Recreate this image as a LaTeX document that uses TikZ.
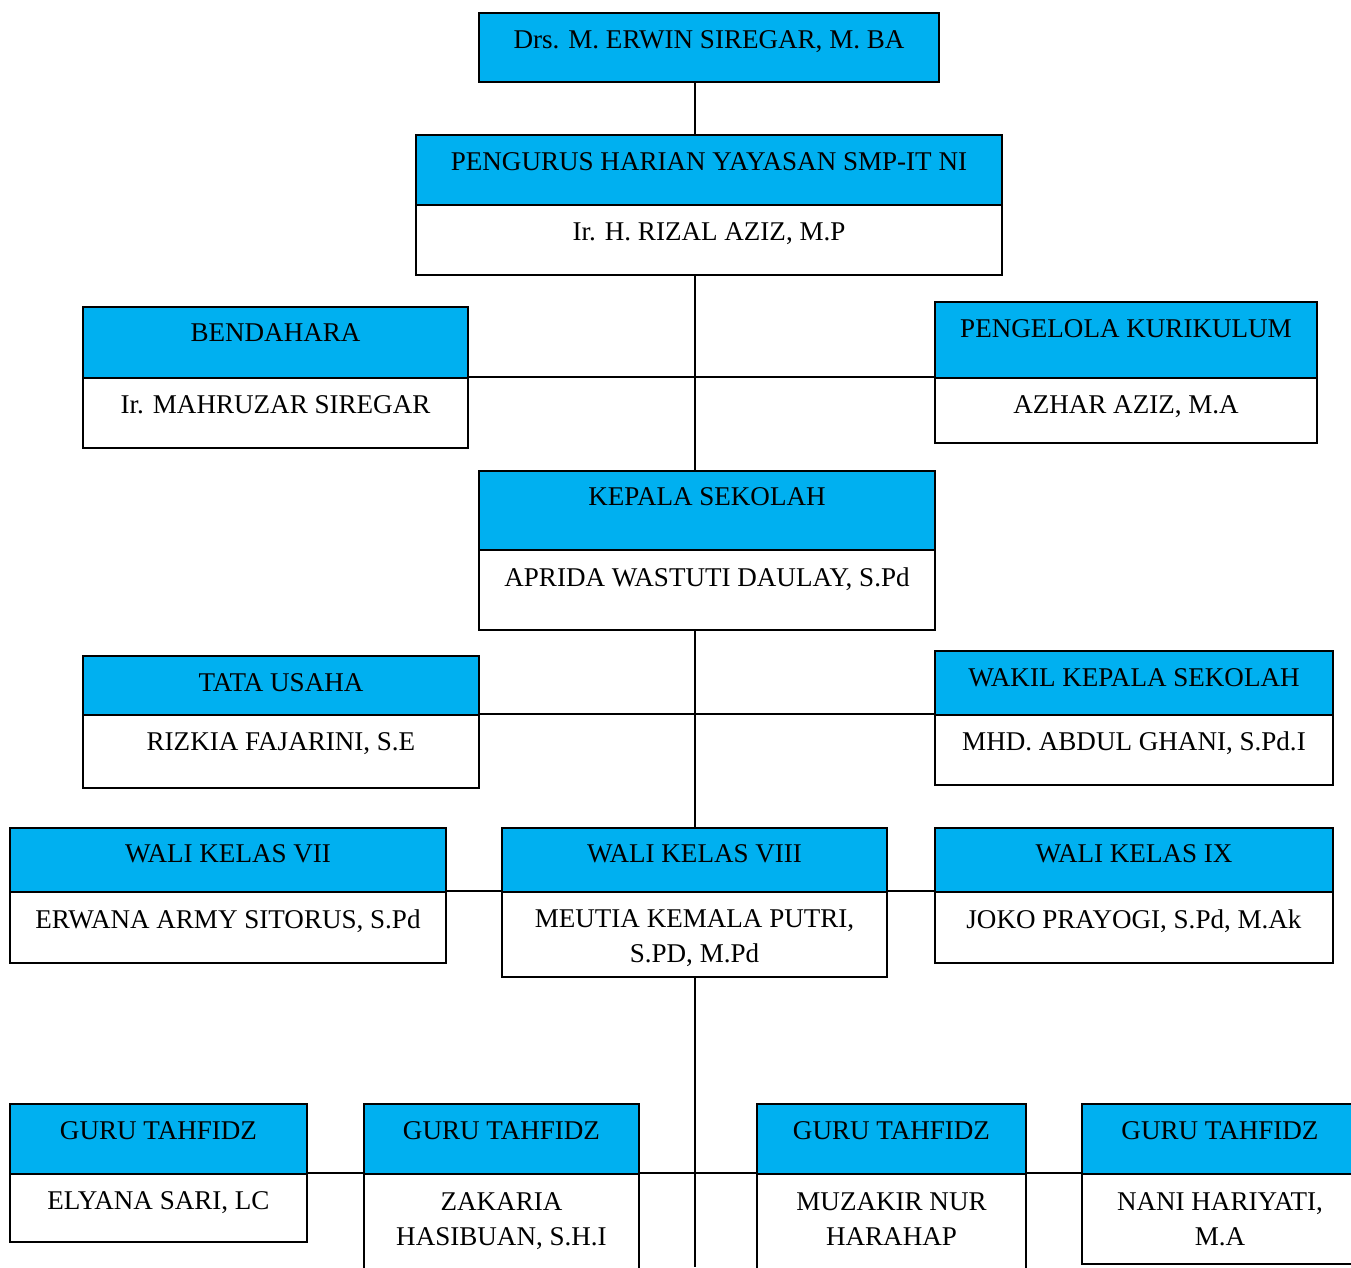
\documentclass[tikz,border=0pt]{standalone}
\usepackage{fontspec}
\setmainfont{Liberation Serif}
\usetikzlibrary{fit}
\definecolor{hdrblue}{HTML}{00B0F0}
\begin{document}
\begin{tikzpicture}[x=0.75pt,y=-0.75pt,
  hdr/.style={draw=black, fill=hdrblue, line width=1.3pt, inner sep=0pt},
  body/.style={draw=black, fill=white, line width=1.3pt, inner sep=0pt},
  lbl/.style={anchor=base, font=\fontsize{20.3}{26}\selectfont, align=center, inner sep=0pt},
  link/.style={draw=black, line width=1.3pt}]
\useasboundingbox (0,0) rectangle (1351,1267);
\clip (0,0) rectangle (1351,1267);
\coordinate (trunk) at (695,0);
\coordinate (bottomend) at (695,1267);

% top
\node[hdr, fit={(479,13) (939,82)}] (top) {};
\node[lbl] (topt) at (709,48.5) {Drs. M. ERWIN SIREGAR, M. BA};
% pengurus
\node[hdr, fit={(416,135) (1002,205)}] (pengT) {};
\node[body, fit={(416,205) (1002,275)}] (pengB) {};
\node[lbl] (pengTt) at (709,170.5) {PENGURUS HARIAN YAYASAN SMP-IT NI};
\node[lbl] (pengBt) at (709,240.5) {Ir. H. RIZAL AZIZ, M.P};
% bendahara
\node[hdr, fit={(83,307) (468,378)}] (bendT) {};
\node[body, fit={(83,378) (468,448)}] (bendB) {};
\node[lbl] (bendTt) at (275.5,341.5) {BENDAHARA};
\node[lbl] (bendBt) at (275.5,413.5) {Ir. MAHRUZAR SIREGAR};
% kurikulum
\node[hdr, fit={(935,302) (1317,378)}] (kurT) {};
\node[body, fit={(935,378) (1317,443)}] (kurB) {};
\node[lbl] (kurTt) at (1126,337.5) {PENGELOLA KURIKULUM};
\node[lbl] (kurBt) at (1126,413.5) {AZHAR AZIZ, M.A};
% kepala
\node[hdr, fit={(479,471) (935,550)}] (kepT) {};
\node[body, fit={(479,550) (935,630)}] (kepB) {};
\node[lbl] (kepTt) at (707,505.5) {KEPALA SEKOLAH};
\node[lbl] (kepBt) at (707,586.5) {APRIDA WASTUTI DAULAY, S.Pd};
% tata usaha
\node[hdr, fit={(83,656) (479,715)}] (tuT) {};
\node[body, fit={(83,715) (479,788)}] (tuB) {};
\node[lbl] (tuTt) at (281,691.5) {TATA USAHA};
\node[lbl] (tuBt) at (281,750.5) {RIZKIA FAJARINI, S.E};
% wakil
\node[hdr, fit={(935,651) (1333,715)}] (wakT) {};
\node[body, fit={(935,715) (1333,785)}] (wakB) {};
\node[lbl] (wakTt) at (1134,686.5) {WAKIL KEPALA SEKOLAH};
\node[lbl] (wakBt) at (1134,750.5) {MHD. ABDUL GHANI, S.Pd.I};
% wali kelas
\node[hdr, fit={(10,828) (446,892)}] (w7T) {};
\node[body, fit={(10,892) (446,963)}] (w7B) {};
\node[lbl] (w7Tt) at (228,862.5) {WALI KELAS VII};
\node[lbl] (w7Bt) at (228,928.5) {ERWANA ARMY SITORUS, S.Pd};
\node[hdr, fit={(502,828) (887,892)}] (w8T) {};
\node[body, fit={(502,892) (887,977)}] (w8B) {};
\node[lbl] (w8Tt) at (694.5,862.5) {WALI KELAS VIII};
\node[lbl] (w8Bt) at (694.5,962.5) {MEUTIA KEMALA PUTRI,\\S.PD, M.Pd};
\node[hdr, fit={(935,828) (1333,892)}] (w9T) {};
\node[body, fit={(935,892) (1333,963)}] (w9B) {};
\node[lbl] (w9Tt) at (1134,862.5) {WALI KELAS IX};
\node[lbl] (w9Bt) at (1134,928.5) {JOKO PRAYOGI, S.Pd, M.Ak};
% guru tahfidz
\node[hdr, fit={(10,1104) (307,1174)}] (g1T) {};
\node[body, fit={(10,1174) (307,1242)}] (g1B) {};
\node[lbl] (g1Tt) at (158.5,1139.5) {GURU TAHFIDZ};
\node[lbl] (g1Bt) at (158.5,1209.5) {ELYANA SARI, LC};
\node[hdr, fit={(364,1104) (639,1174)}] (g2T) {};
\node[body, fit={(364,1174) (639,1290)}] (g2B) {};
\node[lbl] (g2Tt) at (501.5,1139.5) {GURU TAHFIDZ};
\node[lbl] (g2Bt) at (501.5,1245.5) {ZAKARIA\\HASIBUAN, S.H.I};
\node[hdr, fit={(757,1104) (1026,1174)}] (g3T) {};
\node[body, fit={(757,1174) (1026,1290)}] (g3B) {};
\node[lbl] (g3Tt) at (891.5,1139.5) {GURU TAHFIDZ};
\node[lbl] (g3Bt) at (891.5,1245.5) {MUZAKIR NUR\\HARAHAP};
\node[hdr, fit={(1082,1104) (1358,1174)}] (g4T) {};
\node[body, fit={(1082,1174) (1358,1264)}] (g4B) {};
\node[lbl] (g4Tt) at (1220,1139.5) {GURU TAHFIDZ};
\node[lbl] (g4Bt) at (1220,1245.5) {NANI HARIYATI,\\M.A};

% connectors
\draw[link] (top.south -| trunk) -- (pengT.north -| trunk);
\draw[link] (pengB.south -| trunk) -- (kepT.north -| trunk);
\draw[link] (bendB.north east) -- (kurB.north west);
\draw[link] (kepB.south -| trunk) -- (w8T.north -| trunk);
\draw[link] (tuB.north east) -- (wakB.north west);
\draw[link] (w7B.north east) -- (w8B.north west);
\draw[link] (w8B.north east) -- (w9B.north west);
\draw[link] (w8B.south -| trunk) -- (bottomend);
\draw[link] (g1B.north east) -- (g2B.north west);
\draw[link] (g2B.north east) -- (g3B.north west);
\draw[link] (g3B.north east) -- (g4B.north west);
\end{tikzpicture}
\end{document}
